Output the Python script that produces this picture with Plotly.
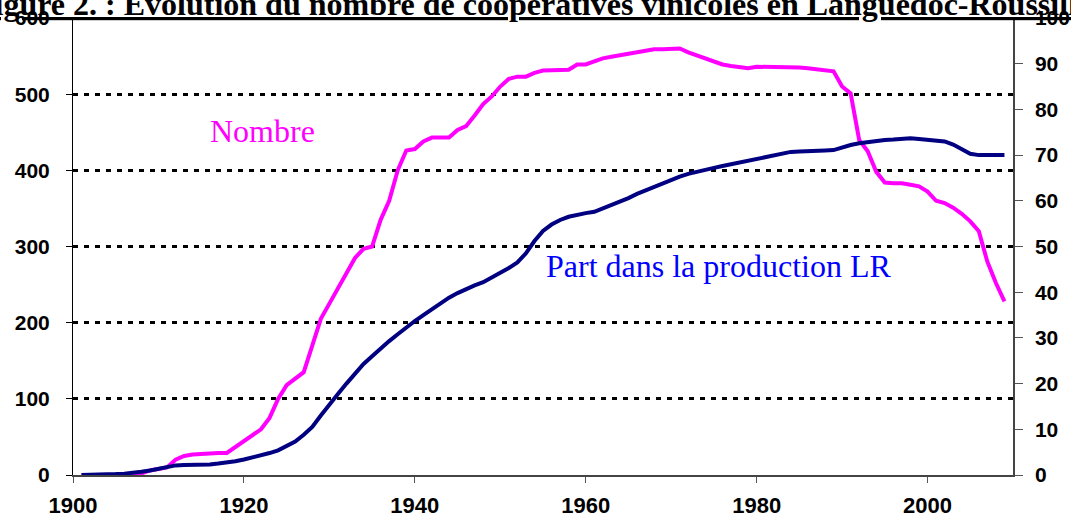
import plotly.graph_objects as go

years = list(range(1901, 2010))

nombre = [0, 0, 0, 0, 0, 0, 0, 2, 6, 8,
          10, 20, 25, 27, 28, 29, 29, 29, 37, 45,
          53, 60, 75, 100, 118, 126, 135, 170, 205, 225,
          245, 265, 285, 297, 300, 335, 360, 400, 426, 428,
          438, 443, 443, 443, 453, 458, 472, 487, 497, 510,
          520, 523, 523, 528, 531, 531, 531, 532, 539, 539,
          543, 547, 549, 551, 553, 554, 557, 559, 559, 560,
          560, 555, 551, 546, 542, 539, 537, 535, 534, 536,
          536, 536, 536, 536, 535, 534, 533, 532, 530, 510,
          501, 440, 425, 398, 384, 383, 383, 381, 379, 372,
          360, 357, 351, 343, 333, 320, 280, 252, 228]

part = [0, 0, 0, 0, 0.2, 0.3, 0.4, 0.7, 1.0, 1.4,
        1.7, 2.1, 2.2, 2.2, 2.2, 2.3, 2.5, 2.7, 3.0, 3.4,
        3.8, 4.3, 4.8, 5.4, 6.3, 7.3, 8.8, 10.5, 13.0, 15.5,
        17.7, 20.0, 22.2, 24.3, 26.0, 27.7, 29.3, 30.8, 32.3, 33.7,
        35.0, 36.3, 37.6, 38.8, 39.8, 40.7, 41.5, 42.2, 43.2, 44.3,
        45.3, 46.5, 48.5, 51.2, 53.4, 54.8, 55.8, 56.5, 57.0, 57.3,
        57.6, 58.3, 59.1, 59.8, 60.6, 61.5, 62.3, 63.1, 63.9, 64.6,
        65.3, 65.9, 66.4, 66.8, 67.2, 67.6, 68.0, 68.4, 68.8, 69.2,
        69.6, 70.0, 70.4, 70.7, 70.8, 70.8, 70.9, 71.0, 71.1, 71.7,
        72.2, 72.6, 72.9, 73.1, 73.3, 73.4, 73.5, 73.7, 73.5, 73.3,
        73.3, 73.0, 72.3, 71.3, 70.3, 70.0, 70.0, 70.0, 70.0]

x_ticks = [1900, 1920, 1940, 1960, 1980, 2000]
left_ticks = [0, 100, 200, 300, 400, 500, 600]
right_ticks = [0, 10, 20, 30, 40, 50, 60, 70, 80, 90, 100]

title_text = "Figure 2. : Evolution du nombre de coopératives vinicoles en Languedoc-Roussillon"
label_nombre = "Nombre"
label_part = "Part dans la production LR"

fig = go.Figure()
fig.add_trace(go.Scatter(x=years, y=nombre, mode="lines", name=label_nombre,
                         line=dict(color="#FF00FF", width=4), yaxis="y"))
fig.add_trace(go.Scatter(x=years, y=part, mode="lines", name=label_part,
                         line=dict(color="#000080", width=4), yaxis="y2"))

axis_font = dict(family="Liberation Sans, Arial, sans-serif", color="black", weight="bold")
serif = "Liberation Serif, Times New Roman, serif"

fig.update_layout(
    width=1071, height=518,
    margin=dict(l=73, r=58, t=18, b=43, autoexpand=False),
    paper_bgcolor="white", plot_bgcolor="white",
    showlegend=False, hovermode=False,
    xaxis=dict(range=[1900, 2010], tickvals=x_ticks, ticktext=[str(v) for v in x_ticks],
               ticks="outside", ticklen=6, tickcolor="#555", tickwidth=1,
               ticklabelstandoff=4, automargin=False,
               showline=True, linecolor="#444", linewidth=2,
               showgrid=False, zeroline=False,
               tickfont=dict(size=22, **axis_font)),
    yaxis=dict(range=[0, 600], tickvals=left_ticks,
               ticks="outside", ticklen=6, tickcolor="black", tickwidth=1,
               ticklabelstandoff=12, automargin=False,
               showline=True, linecolor="black", linewidth=1,
               showgrid=True, gridcolor="black", gridwidth=2.5, griddash="5px,6px",
               zeroline=False,
               tickfont=dict(size=21, **axis_font)),
    yaxis2=dict(range=[0, 100], tickvals=right_ticks, overlaying="y", side="right",
                anchor="x", automargin=False,
                ticks="outside", ticklen=8, tickcolor="#555", tickwidth=1,
                ticklabelstandoff=8,
                showline=True, linecolor="#444", linewidth=1.5,
                showgrid=False, zeroline=False,
                tickfont=dict(size=21, **axis_font)),
    yaxis3=dict(range=[0, 100], tickvals=right_ticks, overlaying="y", side="right",
                anchor="x", ticks="inside", ticklen=6, tickcolor="#555", tickwidth=1,
                automargin=False,
                showticklabels=False, showline=False, showgrid=False, zeroline=False),
    annotations=[
        dict(text=title_text, xref="paper", yref="paper", x=0.5, y=1.0,
             xanchor="center", yanchor="bottom", showarrow=False, yshift=-6,
             font=dict(family=serif, size=32,
                       color="black", weight="bold", lineposition="under")),
        dict(text=label_nombre, xref="paper", yref="paper", x=0.202, y=0.753,
             xanchor="center", yanchor="middle", showarrow=False,
             font=dict(family=serif, size=32, color="#FF00FF")),
        dict(text=label_part, xref="paper", yref="paper", x=0.687, y=0.457,
             xanchor="center", yanchor="middle", showarrow=False,
             font=dict(family=serif, size=32, color="#0000FF")),
    ],
)

fig.write_html("out.html", config={"displayModeBar": False},
               post_script="document.body.style.margin='0';document.body.style.overflow='hidden';")
